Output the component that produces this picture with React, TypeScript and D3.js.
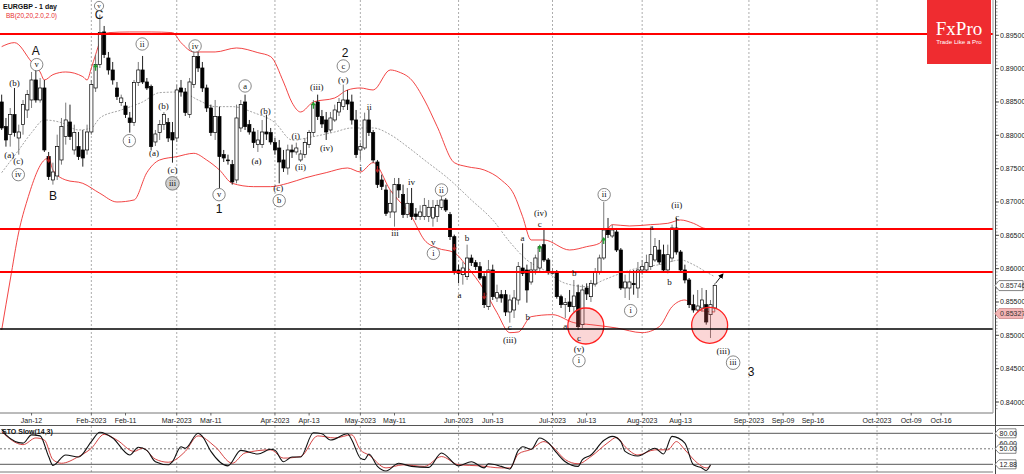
import React from "react";
import * as d3 from "d3";

// ---------------- DATA ----------------
const symbolTitle = "EURGBP - 1 day";
const bbTitle = "BB(20,20,2.0,2.0)";
const stoTitle = "STO Slow(14,3)";

// daily candles, first bar = 2023-01-03 (weekdays)
const opens = [
  0.8850, 0.8813, 0.8801, 0.8831, 0.8796, 0.8816, 0.8838, 0.8853, 0.8883, 0.8853,
  0.8871, 0.8768, 0.8733, 0.8739, 0.8763, 0.8798, 0.8820, 0.8778, 0.8783, 0.8778,
  0.8778, 0.8805, 0.8871, 0.8906, 0.8955, 0.8916, 0.8898, 0.8871, 0.8849, 0.8844,
  0.8826, 0.8819, 0.8879, 0.8898, 0.8880, 0.8873, 0.8790, 0.8804, 0.8816, 0.8819,
  0.8804, 0.8796, 0.8871, 0.8865, 0.8831, 0.8876, 0.8918, 0.8901, 0.8871, 0.8841,
  0.8804, 0.8828, 0.8771, 0.8763, 0.8756, 0.8733, 0.8811, 0.8850, 0.8816, 0.8805,
  0.8786, 0.8786, 0.8805, 0.8804, 0.8789, 0.8781, 0.8763, 0.8751, 0.8778, 0.8775,
  0.8763, 0.8771, 0.8786, 0.8804, 0.8850, 0.8828, 0.8823, 0.8808, 0.8823, 0.8835,
  0.8843, 0.8853, 0.8850, 0.8823, 0.8778, 0.8781, 0.8823, 0.8804, 0.8760, 0.8733,
  0.8718, 0.8685, 0.8685, 0.8726, 0.8711, 0.8681, 0.8698, 0.8682, 0.8678, 0.8678,
  0.8678, 0.8676, 0.8678, 0.8692, 0.8703, 0.8681, 0.8648, 0.8598, 0.8591, 0.8588,
  0.8616, 0.8609, 0.8603, 0.8588, 0.8543, 0.8598, 0.8556, 0.8561, 0.8561, 0.8535,
  0.8538, 0.8553, 0.8601, 0.8598, 0.8580, 0.8598, 0.8601, 0.8636, 0.8613, 0.8593,
  0.8595, 0.8558, 0.8546, 0.8550, 0.8543, 0.8564, 0.8516, 0.8571, 0.8558, 0.8577,
  0.8595, 0.8616, 0.8660, 0.8649, 0.8655, 0.8628, 0.8571, 0.8571, 0.8578, 0.8571,
  0.8598, 0.8598, 0.8603, 0.8613, 0.8628, 0.8621, 0.8598, 0.8616, 0.8661, 0.8625,
  0.8598, 0.8583, 0.8546, 0.8538, 0.8541, 0.8546, 0.8531, 0.8541,
];
const highs = [
  0.8861, 0.8826, 0.8841, 0.8871, 0.8816, 0.8853, 0.8868, 0.8895, 0.8898, 0.8886,
  0.8883, 0.8775, 0.8759, 0.8801, 0.8826, 0.8849, 0.8846, 0.8816, 0.8805, 0.8808,
  0.8816, 0.8883, 0.8921, 0.8981, 0.8964, 0.8925, 0.8910, 0.8880, 0.8861, 0.8850,
  0.8835, 0.8883, 0.8910, 0.8919, 0.8886, 0.8876, 0.8808, 0.8823, 0.8835, 0.8826,
  0.8820, 0.8876, 0.8883, 0.8871, 0.8886, 0.8928, 0.8925, 0.8910, 0.8876, 0.8846,
  0.8853, 0.8843, 0.8778, 0.8771, 0.8763, 0.8846, 0.8853, 0.8861, 0.8823, 0.8811,
  0.8808, 0.8823, 0.8831, 0.8811, 0.8796, 0.8793, 0.8778, 0.8786, 0.8786, 0.8789,
  0.8778, 0.8796, 0.8808, 0.8853, 0.8861, 0.8838, 0.8835, 0.8835, 0.8846, 0.8856,
  0.8876, 0.8868, 0.8861, 0.8838, 0.8789, 0.8834, 0.8838, 0.8808, 0.8763, 0.8741,
  0.8726, 0.8718, 0.8736, 0.8736, 0.8726, 0.8721, 0.8721, 0.8691, 0.8695, 0.8706,
  0.8703, 0.8703, 0.8703, 0.8712, 0.8706, 0.8685, 0.8651, 0.8606, 0.8610, 0.8636,
  0.8621, 0.8613, 0.8610, 0.8593, 0.8613, 0.8606, 0.8576, 0.8568, 0.8568, 0.8561,
  0.8568, 0.8610, 0.8638, 0.8606, 0.8610, 0.8621, 0.8636, 0.8661, 0.8616, 0.8601,
  0.8598, 0.8561, 0.8556, 0.8568, 0.8583, 0.8576, 0.8576, 0.8578, 0.8583, 0.8601,
  0.8621, 0.8700, 0.8676, 0.8666, 0.8661, 0.8631, 0.8591, 0.8595, 0.8598, 0.8610,
  0.8613, 0.8621, 0.8661, 0.8646, 0.8643, 0.8636, 0.8636, 0.8666, 0.8676, 0.8628,
  0.8606, 0.8586, 0.8561, 0.8568, 0.8571, 0.8568, 0.8553, 0.8578,
];
const lows = [
  0.8808, 0.8783, 0.8783, 0.8798, 0.8771, 0.8801, 0.8826, 0.8841, 0.8849, 0.8849,
  0.8775, 0.8733, 0.8726, 0.8733, 0.8756, 0.8786, 0.8793, 0.8771, 0.8763, 0.8753,
  0.8771, 0.8801, 0.8865, 0.8901, 0.8916, 0.8891, 0.8876, 0.8853, 0.8844, 0.8826,
  0.8804, 0.8814, 0.8874, 0.8877, 0.8868, 0.8778, 0.8784, 0.8793, 0.8808, 0.8790,
  0.8759, 0.8790, 0.8858, 0.8829, 0.8826, 0.8871, 0.8895, 0.8865, 0.8835, 0.8799,
  0.8793, 0.8721, 0.8760, 0.8756, 0.8726, 0.8728, 0.8805, 0.8808, 0.8801, 0.8781,
  0.8775, 0.8781, 0.8793, 0.8786, 0.8771, 0.8728, 0.8745, 0.8741, 0.8766, 0.8771,
  0.8760, 0.8766, 0.8781, 0.8798, 0.8823, 0.8811, 0.8793, 0.8804, 0.8820, 0.8829,
  0.8838, 0.8838, 0.8816, 0.8766, 0.8763, 0.8778, 0.8799, 0.8759, 0.8721, 0.8718,
  0.8679, 0.8676, 0.8663, 0.8706, 0.8676, 0.8676, 0.8673, 0.8673, 0.8673, 0.8673,
  0.8670, 0.8663, 0.8670, 0.8688, 0.8685, 0.8643, 0.8591, 0.8578, 0.8576, 0.8583,
  0.8604, 0.8598, 0.8583, 0.8541, 0.8538, 0.8553, 0.8550, 0.8549, 0.8529, 0.8519,
  0.8526, 0.8546, 0.8589, 0.8549, 0.8576, 0.8591, 0.8595, 0.8610, 0.8591, 0.8591,
  0.8555, 0.8541, 0.8526, 0.8535, 0.8535, 0.8508, 0.8511, 0.8553, 0.8550, 0.8573,
  0.8591, 0.8613, 0.8646, 0.8646, 0.8625, 0.8568, 0.8556, 0.8553, 0.8561, 0.8556,
  0.8591, 0.8595, 0.8598, 0.8610, 0.8606, 0.8595, 0.8593, 0.8610, 0.8621, 0.8595,
  0.8578, 0.8541, 0.8534, 0.8534, 0.8535, 0.8516, 0.8496, 0.8535,
];
const closes = [
  0.8811, 0.8793, 0.8831, 0.8804, 0.8805, 0.8846, 0.8861, 0.8883, 0.8853, 0.8871,
  0.8778, 0.8738, 0.8745, 0.8783, 0.8813, 0.8823, 0.8798, 0.8804, 0.8768, 0.8766,
  0.8805, 0.8876, 0.8906, 0.8954, 0.8921, 0.8898, 0.8883, 0.8858, 0.8856, 0.8831,
  0.8819, 0.8879, 0.8898, 0.8880, 0.8871, 0.8783, 0.8802, 0.8816, 0.8831, 0.8796,
  0.8793, 0.8868, 0.8865, 0.8834, 0.8880, 0.8918, 0.8901, 0.8871, 0.8841, 0.8804,
  0.8828, 0.8768, 0.8766, 0.8762, 0.8730, 0.8826, 0.8846, 0.8813, 0.8805, 0.8789,
  0.8793, 0.8805, 0.8802, 0.8790, 0.8778, 0.8760, 0.8751, 0.8778, 0.8775, 0.8781,
  0.8772, 0.8789, 0.8804, 0.8846, 0.8828, 0.8817, 0.8805, 0.8826, 0.8838, 0.8849,
  0.8853, 0.8847, 0.8823, 0.8771, 0.8783, 0.8823, 0.8804, 0.8763, 0.8726, 0.8723,
  0.8683, 0.8698, 0.8726, 0.8718, 0.8681, 0.8698, 0.8678, 0.8678, 0.8685, 0.8695,
  0.8692, 0.8692, 0.8695, 0.8703, 0.8688, 0.8648, 0.8595, 0.8593, 0.8601, 0.8616,
  0.8609, 0.8603, 0.8586, 0.8546, 0.8598, 0.8558, 0.8564, 0.8556, 0.8535, 0.8553,
  0.8556, 0.8603, 0.8593, 0.8568, 0.8598, 0.8616, 0.8633, 0.8613, 0.8595, 0.8596,
  0.8558, 0.8546, 0.8549, 0.8543, 0.8559, 0.8513, 0.8568, 0.8562, 0.8578, 0.8595,
  0.8616, 0.8658, 0.8651, 0.8658, 0.8628, 0.8571, 0.8580, 0.8580, 0.8576, 0.8598,
  0.8603, 0.8609, 0.8621, 0.8633, 0.8610, 0.8598, 0.8621, 0.8661, 0.8625, 0.8598,
  0.8583, 0.8546, 0.8538, 0.8544, 0.8553, 0.8520, 0.8546, 0.8575,
];

// Bollinger bands: [bar index, price]
const bbUpper: [number, number][] = [
  [0, 0.8933], [3, 0.8939], [7, 0.8910], [9, 0.8895], [10, 0.8883], [12, 0.8891], [15, 0.8895],
  [19, 0.8888], [20, 0.8883], [21, 0.8901], [22, 0.8921], [23, 0.8940], [25, 0.8954], [30, 0.8955],
  [35, 0.8955], [40, 0.8954], [42, 0.8939], [45, 0.8925], [50, 0.8925], [55, 0.8931], [60, 0.8924],
  [63, 0.8918], [66, 0.8880], [68, 0.8849], [70, 0.8835], [73, 0.8850], [78, 0.8856], [81, 0.8868],
  [84, 0.8871], [87, 0.8868], [91, 0.8898], [93, 0.8895], [96, 0.8883], [99, 0.8853], [102, 0.8813],
  [106, 0.8759], [109, 0.8753], [113, 0.8748], [117, 0.8733], [120, 0.8711], [122, 0.8678],
  [124, 0.8643], [127, 0.8643], [133, 0.8628], [137, 0.8633], [140, 0.8638], [143, 0.8666],
  [147, 0.8664], [152, 0.8666], [156, 0.8668], [159, 0.8673], [162, 0.8668], [165, 0.8660], [167, 0.8660],
];
const bbMiddle: [number, number][] = [
  [0, 0.8744], [4, 0.8778], [7, 0.8804], [10, 0.8823], [14, 0.8819], [18, 0.8808], [21, 0.8811],
  [23, 0.8826], [28, 0.8838], [33, 0.8850], [37, 0.8864], [42, 0.8865], [46, 0.8853], [50, 0.8843],
  [54, 0.8843], [59, 0.8834], [64, 0.8819], [68, 0.8793], [73, 0.8798], [78, 0.8805], [82, 0.8811],
  [87, 0.8811], [91, 0.8801], [95, 0.8783], [99, 0.8763], [105, 0.8733], [110, 0.8703], [115, 0.8673],
  [119, 0.8640], [123, 0.8613], [127, 0.8598], [132, 0.8578], [137, 0.8573], [141, 0.8583],
  [145, 0.8593], [149, 0.8601], [154, 0.8606], [159, 0.8613], [162, 0.8606], [165, 0.8595], [167, 0.8588],
];
const bbLower: [number, number][] = [
  [0, 0.8508], [2, 0.8583], [4, 0.8655], [6, 0.8703], [10, 0.8763], [11, 0.8766], [12, 0.8748],
  [15, 0.8733], [19, 0.8728], [23, 0.8713], [27, 0.8700], [31, 0.8703], [34, 0.8744], [37, 0.8763],
  [41, 0.8768], [45, 0.8773], [48, 0.8763], [51, 0.8748], [54, 0.8728], [59, 0.8723], [63, 0.8723],
  [67, 0.8728], [71, 0.8736], [76, 0.8744], [81, 0.8751], [84, 0.8745], [87, 0.8759], [91, 0.8718],
  [96, 0.8678], [99, 0.8643], [102, 0.8631], [106, 0.8624], [109, 0.8603], [113, 0.8568],
  [116, 0.8534], [119, 0.8504], [121, 0.8505], [124, 0.8528], [129, 0.8531], [134, 0.8519],
  [138, 0.8516], [144, 0.8511], [150, 0.8504], [154, 0.8513], [157, 0.8543], [160, 0.8553],
  [163, 0.8538], [167, 0.8535],
];

// Stochastic slow (14,3): [bar index, value]
const stochK: [number, number][] = [
  [0, 88], [1, 77], [5, 61], [7, 77], [9, 75], [11, 35], [12, 18], [15, 38], [18, 34], [21, 64],
  [23, 82], [26, 71], [30, 38], [32, 53], [34, 47], [36, 25], [39, 19], [40, 25], [42, 54], [43, 51],
  [46, 80], [47, 74], [49, 45], [53, 17], [56, 47], [60, 40], [63, 49], [64, 47], [66, 25], [68, 34],
  [70, 34], [73, 81], [75, 79], [77, 67], [81, 79], [82, 67], [84, 32], [85, 29], [86, 40], [88, 16],
  [90, 7], [93, 22], [96, 16], [100, 14], [103, 42], [107, 17], [110, 25], [113, 13], [114, 21],
  [117, 16], [119, 11], [121, 47], [122, 54], [124, 49], [126, 71], [128, 62], [130, 42], [132, 25],
  [135, 16], [136, 29], [138, 38], [141, 66], [143, 74], [145, 64], [146, 45], [149, 36], [153, 51],
  [155, 40], [157, 74], [160, 61], [162, 19], [164, 13], [165, 8], [166, 19],
];
const stochD: [number, number][] = [
  [0, 83], [5, 58], [8, 71], [10, 67], [12, 29], [14, 22], [18, 35], [21, 51], [24, 78], [27, 67],
  [31, 45], [33, 51], [36, 30], [39, 24], [43, 45], [46, 75], [50, 54], [54, 22], [57, 42], [63, 48],
  [66, 32], [70, 35], [74, 75], [78, 71], [82, 77], [84, 48], [86, 38], [90, 13], [94, 19], [99, 16],
  [103, 35], [107, 19], [112, 17], [117, 13], [119, 13], [121, 40], [124, 49], [127, 64], [129, 54],
  [132, 29], [135, 21], [138, 35], [142, 62], [144, 72], [146, 54], [149, 38], [153, 48], [156, 48],
  [158, 64], [160, 48], [163, 22], [165, 13], [166, 17],
];

// horizontal levels
const levels: { price: number; color: string }[] = [
  { price: 0.8952, color: "#ff0000" },
  { price: 0.86595, color: "#ff0000" },
  { price: 0.8595, color: "#ff0000" },
  { price: 0.85095, color: "#000000" },
];

// highlighted zones: [bar index, price]
const zones: [number, number][] = [
  [136.8, 0.8514],
  [165.8, 0.8515],
];

// Elliott wave labels: text, bar index, price, style
// c = circled, g = grey circled, p = parenthesised, r = plain roman/letter, b = big degree
const waveLabels: [string, number, number, string][] = [
  ["(a)", 1.8, 0.8771, "p"], ["(b)", 3.0, 0.8879, "p"], ["(c)", 3.9, 0.8762, "p"], ["iv", 3.9, 0.8741, "c"],
  ["v", 8.2, 0.8906, "c"], ["A", 8.0, 0.8926, "b"], ["B", 12.0, 0.8709, "b"], ["C", 22.8, 0.8980, "b"],
  ["v", 22.8, 0.8994, "s"], ["i", 29.9, 0.8792, "c"], ["ii", 32.9, 0.8937, "c"], ["(a)", 35.7, 0.8774, "p"],
  ["(b)", 37.9, 0.8844, "p"], ["(c)", 40.0, 0.8748, "p"], ["iii", 40.0, 0.8728, "g"], ["iv", 45.3, 0.8934, "c"],
  ["v", 50.9, 0.8711, "c"], ["1", 50.9, 0.8689, "b"], ["a", 57.0, 0.8874, "c"], ["(a)", 59.7, 0.8762, "p"],
  ["(b)", 61.8, 0.8837, "p"], ["(c)", 64.8, 0.8721, "p"], ["b", 65.0, 0.8702, "c"], ["(i)", 68.9, 0.8799, "p"],
  ["(ii)", 70.0, 0.8753, "p"], ["(iii)", 73.8, 0.8873, "p"], ["(iv)", 76.1, 0.8781, "p"], ["(v)", 80.0, 0.8883, "p"],
  ["c", 80.0, 0.8904, "c"], ["2", 80.4, 0.8923, "b"],
  ["i", 84.1, 0.8751, "r"], ["ii", 86.1, 0.8843, "r"], ["iii", 92.1, 0.8653, "r"], ["iv", 96.0, 0.8730, "r"],
  ["v", 101.1, 0.8640, "r"], ["ii", 103.0, 0.8718, "c"], ["i", 101.1, 0.8623, "c"],
  ["a", 107.2, 0.8561, "r"], ["b", 109.0, 0.8646, "r"], ["c", 119.0, 0.8513, "r"], ["(iii)", 119.0, 0.8493, "p"],
  ["a", 122.0, 0.8646, "r"], ["b", 123.2, 0.8528, "r"], ["(iv)", 126.2, 0.8684, "p"], ["c", 126.0, 0.8667, "r"],
  ["a", 132.0, 0.8514, "r"], ["b", 134.1, 0.8593, "r"], ["c", 135.2, 0.8496, "r"], ["(v)", 135.2, 0.8480, "p"],
  ["i", 135.2, 0.8462, "c"], ["ii", 141.1, 0.8711, "c"], ["i", 147.3, 0.8537, "c"], ["a", 152.2, 0.8663, "r"],
  ["b", 156.4, 0.8580, "r"], ["(ii)", 158.1, 0.8696, "p"], ["c", 158.2, 0.8677, "r"],
  ["(iii)", 169.0, 0.8477, "p"], ["iii", 171.3, 0.8459, "c"], ["3", 175.5, 0.8445, "b"],
];

// signal arrows: [bar index, price]
const upSignals: [number, number][] = [[22, 0.8903], [73, 0.8846], [126, 0.8631], [141, 0.8643]];
const downSignals: [number, number][] = [[11, 0.8763], [88, 0.8748], [106, 0.8631], [113, 0.8558]];

// projected move arrow: from / to [bar index, price]
const projection: [number, number][] = [[167.2, 0.8578], [168.9, 0.8592]];

// date axis labels: text, date (y, m, d), month boundary?
const dateTicks: [string, number, number, number, boolean][] = [
  ["Jan-12", 2023, 1, 12, false], ["Feb-2023", 2023, 2, 1, true], ["Feb-11", 2023, 2, 11, false],
  ["Mar-2023", 2023, 3, 1, true], ["Mar-11", 2023, 3, 11, false], ["Apr-2023", 2023, 4, 1, true],
  ["Apr-13", 2023, 4, 13, false], ["May-2023", 2023, 5, 1, true], ["May-11", 2023, 5, 11, false],
  ["Jun-2023", 2023, 6, 1, true], ["Jun-13", 2023, 6, 13, false], ["Jul-2023", 2023, 7, 1, true],
  ["Jul-13", 2023, 7, 13, false], ["Aug-2023", 2023, 8, 1, true], ["Aug-13", 2023, 8, 13, false],
  ["Sep-2023", 2023, 9, 1, true], ["Sep-09", 2023, 9, 9, false], ["Sep-16", 2023, 9, 16, false],
  ["Oct-2023", 2023, 10, 1, true], ["Oct-09", 2023, 10, 9, false], ["Oct-16", 2023, 10, 16, false],
];

const priceTicks = [0.84, 0.845, 0.85, 0.855, 0.86, 0.865, 0.87, 0.875, 0.88, 0.885, 0.89, 0.895];
const bidPrice = 0.85746;
const bandPrice = 0.85327;
const stochLevels = [80, 50, 20];
const stochTags: [string, number, boolean][] = [["80.00", 80, true], ["60.00", 60.5, false], ["50.00", 50, true], ["12.88", 20, true]];

// ---------------- CHART ----------------
const W = 1024;
const H = 474;
const PLOT_R = 993;
const MAIN_B = 413;
const STO_T = 426;
const STO_B = 472;
const SANS = "'Liberation Sans', Arial, sans-serif";
const SERIF = "'Liberation Serif', 'Times New Roman', serif";

function tradingDates(n: number): Date[] {
  const out: Date[] = [];
  const d = new Date(2023, 0, 3);
  while (out.length < n) {
    const wd = d.getDay();
    if (wd !== 0 && wd !== 6) out.push(new Date(d));
    d.setDate(d.getDate() + 1);
  }
  return out;
}

export default function App() {
  const n = opens.length;
  const last = n - 1;
  const dates = tradingDates(n);
  const x = d3.scaleLinear().domain([0, last]).range([1.67, 1.67 + 4.27 * last]);
  const y = d3.scaleLinear().domain([0.84, 0.895]).range([402, 35.3]);
  const ys = d3.scaleLinear().domain([20, 80]).range([464.3, 433.3]);

  const slotOf = (yy: number, m: number, dd: number) => {
    const t = new Date(yy, m - 1, dd);
    const lastDate = dates[last];
    if (t <= lastDate) {
      const i = dates.findIndex((q) => q >= t);
      return i;
    }
    return last + Math.round((t.getTime() - lastDate.getTime()) / 86400000);
  };

  const bandLine = d3
    .line<[number, number]>()
    .x((d) => x(d[0]))
    .y((d) => y(d[1]))
    .curve(d3.curveMonotoneX);
  const stoLine = d3
    .line<[number, number]>()
    .x((d) => x(d[0]))
    .y((d) => ys(d[1]))
    .curve(d3.curveMonotoneX);

  const ticks = dateTicks.map(([label, yy, m, dd, major]) => ({ label, major, slot: slotOf(yy, m, dd) }));

  const minorTicks = d3.range(0.8385, 0.9005, 0.0005).filter((p) => y(p) > 1 && y(p) < MAIN_B - 1);

  const priceTag = (p: number, text: string, fill: string, stroke: string, key: string, right = 1023) => {
    const yy = y(p);
    return (
      <g key={key}>
        <path
          d={`M995,${yy} L999,${yy - 5} L${right},${yy - 5} L${right},${yy + 5} L999,${yy + 5} Z`}
          fill={fill}
          stroke={stroke}
          strokeWidth={0.8}
        />
        <text x={1000} y={yy + 2.6} fontSize={7} fontFamily={SANS} fill="#333">
          {text}
        </text>
      </g>
    );
  };

  return (
    <svg
      width={W}
      height={H}
      viewBox={`0 0 ${W} ${H}`}
      style={{ position: "absolute", left: 0, top: 0, display: "block", background: "#fff" }}
    >
      <defs>
        <clipPath id="mainClip">
          <rect x={0} y={0} width={PLOT_R} height={MAIN_B} />
        </clipPath>
        <clipPath id="stoClip">
          <rect x={0} y={STO_T} width={PLOT_R} height={STO_B - STO_T} />
        </clipPath>
        <marker id="arrowHead" viewBox="0 0 10 10" refX="8" refY="5" markerWidth="6" markerHeight="6" orient="auto">
          <path d="M0,0 L10,5 L0,10 Z" fill="#000" />
        </marker>
      </defs>
      <rect x={0} y={0} width={W} height={H} fill="#fff" />

      {/* ---------- main panel ---------- */}
      <g clipPath="url(#mainClip)">
        {ticks
          .filter((t) => t.major)
          .map((t) => (
            <line
              key={"g" + t.label}
              x1={x(t.slot)}
              x2={x(t.slot)}
              y1={0}
              y2={MAIN_B}
              stroke="#8a8a8a"
              strokeWidth={0.7}
              strokeDasharray="2,2"
            />
          ))}

        <path d={bandLine(bbUpper) || ""} fill="none" stroke="#f03030" strokeWidth={0.9} />
        <path d={bandLine(bbLower) || ""} fill="none" stroke="#f03030" strokeWidth={0.9} />
        <path d={bandLine(bbMiddle) || ""} fill="none" stroke="#8c8c8c" strokeWidth={0.8} strokeDasharray="2,1.5" />

        {/* candles */}
        {opens.map((o, i) => {
          const c = closes[i];
          const up = c >= o;
          const cx = x(i);
          const top = y(Math.max(o, c));
          const bot = y(Math.min(o, c));
          return (
            <g key={"c" + i}>
              <line x1={cx} x2={cx} y1={y(highs[i])} y2={y(lows[i])} stroke={up ? "#7a7a7a" : "#222"} strokeWidth={1} />
              <rect
                x={cx - 1.6}
                y={top}
                width={3.2}
                height={Math.max(0.8, bot - top)}
                fill={up ? "#ffffff" : "#000000"}
                stroke="#000"
                strokeWidth={0.7}
              />
            </g>
          );
        })}

        {/* zones */}
        {zones.map(([j, p], i) => (
          <circle key={"z" + i} cx={x(j)} cy={y(p)} r={18} fill="rgba(240,90,90,0.25)" stroke="#ff2020" strokeWidth={1.3} />
        ))}

        {/* levels */}
        {levels.map((l, i) => (
          <line
            key={"l" + i}
            x1={0}
            x2={PLOT_R}
            y1={y(l.price)}
            y2={y(l.price)}
            stroke={l.color}
            strokeWidth={l.color === "#000000" ? 1.6 : 2}
          />
        ))}

        {/* signals */}
        {upSignals.map(([j, p], i) => {
          const cx = x(j);
          const cy = y(p);
          return (
            <g key={"u" + i}>
              <path d={`M${cx - 2.5},${cy + 0.5} L${cx},${cy - 3} L${cx + 2.5},${cy + 0.5} Z`} fill="#1e9e2a" />
              <line x1={cx} x2={cx} y1={cy} y2={cy + 4} stroke="#1e9e2a" strokeWidth={1.2} />
            </g>
          );
        })}
        {downSignals.map(([j, p], i) => {
          const cx = x(j);
          const cy = y(p);
          return (
            <g key={"d" + i}>
              <path d={`M${cx - 2.5},${cy - 0.5} L${cx},${cy + 3} L${cx + 2.5},${cy - 0.5} Z`} fill="#b02020" />
              <line x1={cx} x2={cx} y1={cy - 4} y2={cy} stroke="#b02020" strokeWidth={1.2} />
            </g>
          );
        })}

        {/* projection arrow */}
        <line
          x1={x(projection[0][0])}
          y1={y(projection[0][1])}
          x2={x(projection[1][0])}
          y2={y(projection[1][1])}
          stroke="#000"
          strokeWidth={0.9}
          markerEnd="url(#arrowHead)"
        />

        {/* wave labels */}
        {waveLabels.map(([t, j, p, s], i) => {
          const cx = x(j);
          const cy = y(p);
          if (s === "c" || s === "g" || s === "s") {
            const r = s === "s" ? 4.6 : t.length >= 3 ? 6.8 : 6.2;
            return (
              <g key={"w" + i}>
                <circle cx={cx} cy={cy} r={r} fill={s === "g" ? "#d0d0d0" : "#fff"} stroke="#555" strokeWidth={0.7} />
                <text
                  x={cx}
                  y={cy + (s === "s" ? 2.2 : 2.8)}
                  textAnchor="middle"
                  fontSize={s === "s" ? 7 : 8.5}
                  fontFamily={SERIF}
                  fill="#111"
                >
                  {t}
                </text>
              </g>
            );
          }
          if (s === "b") {
            return (
              <text key={"w" + i} x={cx} y={cy + 4} textAnchor="middle" fontSize={12} fontFamily={SANS} fill="#111">
                {t}
              </text>
            );
          }
          return (
            <text key={"w" + i} x={cx} y={cy + 3} textAnchor="middle" fontSize={9} fontFamily={SERIF} fill="#111">
              {t}
            </text>
          );
        })}
      </g>

      {/* frame of main panel */}
      <line x1={0} x2={PLOT_R} y1={MAIN_B} y2={MAIN_B} stroke="#777" strokeWidth={1} />
      <line x1={PLOT_R} x2={PLOT_R} y1={0} y2={MAIN_B} stroke="#999" strokeWidth={1} />
      <line x1={995.5} x2={995.5} y1={0} y2={H} stroke="#444" strokeWidth={1} />

      {/* price axis */}
      {minorTicks.map((p, i) => (
        <line key={"mt" + i} x1={995.5} x2={997.5} y1={y(p)} y2={y(p)} stroke="#555" strokeWidth={0.6} />
      ))}
      {priceTicks.map((p) => (
        <g key={"pt" + p}>
          <line x1={995.5} x2={999} y1={y(p)} y2={y(p)} stroke="#333" strokeWidth={0.8} />
          <text x={1000} y={y(p) + 2.5} fontSize={7} fontFamily={SANS} fill="#222">
            {p.toFixed(5)}
          </text>
        </g>
      ))}
      {priceTag(bidPrice, bidPrice.toFixed(5), "#ffffff", "#666", "bid")}
      {priceTag(bandPrice, bandPrice.toFixed(5), "#f4b4b4", "#c88", "band")}

      {/* date axis */}
      {ticks.map((t) => (
        <g key={"dt" + t.label}>
          <line x1={x(t.slot)} x2={x(t.slot)} y1={MAIN_B} y2={MAIN_B + 2.5} stroke="#444" strokeWidth={0.8} />
          <text x={x(t.slot)} y={MAIN_B + 10} textAnchor="middle" fontSize={7} fontFamily={SANS} fill="#222">
            {t.label}
          </text>
        </g>
      ))}

      {/* ---------- stochastic panel ---------- */}
      <line x1={0} x2={W} y1={STO_T - 0.5} y2={STO_T - 0.5} stroke="#555" strokeWidth={1} />
      <g clipPath="url(#stoClip)">
        {ticks
          .filter((t) => t.major)
          .map((t) => (
            <line
              key={"sg" + t.label}
              x1={x(t.slot)}
              x2={x(t.slot)}
              y1={STO_T}
              y2={STO_B}
              stroke="#8a8a8a"
              strokeWidth={0.7}
              strokeDasharray="2,2"
            />
          ))}
        {stochLevels.map((v) => (
          <line
            key={"sl" + v}
            x1={0}
            x2={PLOT_R}
            y1={ys(v)}
            y2={ys(v)}
            stroke={v === 50 ? "#666" : "#444"}
            strokeWidth={0.9}
            strokeDasharray={v === 50 ? "2,2" : undefined}
          />
        ))}
        <path d={stoLine(stochD) || ""} fill="none" stroke="#d03030" strokeWidth={0.9} />
        <path d={stoLine(stochK) || ""} fill="none" stroke="#111" strokeWidth={1.1} />
      </g>
      <line x1={0} x2={PLOT_R} y1={STO_B} y2={STO_B} stroke="#555" strokeWidth={0.8} />
      <text x={2} y={STO_T + 8} fontSize={7} fontWeight="bold" fontFamily={SANS} fill="#111">
        {stoTitle}
      </text>
      {stochTags.map(([t, v, boxed]) => {
        const yy = ys(v);
        return (
          <g key={"st" + t}>
            {boxed && (
              <path
                d={`M995,${yy} L999,${yy - 4.5} L1016,${yy - 4.5} L1016,${yy + 4.5} L999,${yy + 4.5} Z`}
                fill="#fff"
                stroke="#555"
                strokeWidth={0.7}
              />
            )}
            <text x={999.5} y={yy + 2.5} fontSize={7} fontFamily={SANS} fill="#222">
              {t}
            </text>
          </g>
        );
      })}

      {/* ---------- header & logo ---------- */}
      <text x={3} y={9} fontSize={7} fontWeight="bold" fontFamily={SANS} fill="#111">
        {symbolTitle}
      </text>
      <text x={6} y={18} fontSize={6.5} fontFamily={SANS} fill="#e83030">
        {bbTitle}
      </text>
      <rect x={927} y={0} width={64} height={64} fill="#ef2c30" />
      <text x={959} y={35} textAnchor="middle" fontSize={19} fontFamily={SERIF} fill="#fff">
        FxPro
      </text>
      <text x={959} y={43.5} textAnchor="middle" fontSize={6.2} fontFamily={SANS} fill="#fff">
        Trade Like a Pro
      </text>
    </svg>
  );
}
